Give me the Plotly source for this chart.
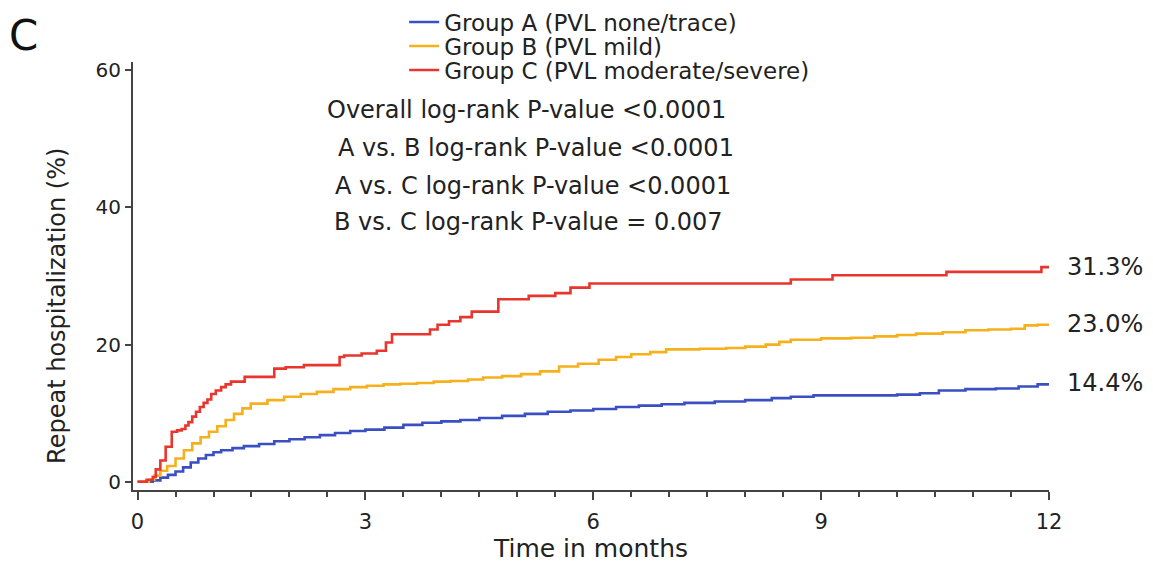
import plotly.graph_objects as go

# ---------------- data ----------------
months_a = [0, 0.2, 0.3, 0.4, 0.5, 0.6, 0.7, 0.8, 0.9, 1.0, 1.1, 1.25, 1.4, 1.6, 1.8, 2.0,
            2.2, 2.4, 2.6, 2.8, 3.0, 3.25, 3.5, 3.75, 4.0, 4.25, 4.5, 4.8, 5.1, 5.4, 5.7,
            6.0, 6.3, 6.6, 6.9, 7.2, 7.6, 8.0, 8.35, 8.6, 8.9, 9.5, 10.0, 10.3, 10.55,
            10.9, 11.3, 11.6, 11.85, 12.0]
group_a = [0, 0.2, 0.6, 1.0, 1.5, 2.1, 2.8, 3.4, 3.9, 4.3, 4.6, 4.9, 5.2, 5.5, 5.9, 6.2,
           6.5, 6.8, 7.1, 7.4, 7.6, 7.9, 8.3, 8.6, 8.8, 9.0, 9.3, 9.6, 9.9, 10.2, 10.4,
           10.6, 10.9, 11.1, 11.3, 11.5, 11.7, 11.9, 12.2, 12.4, 12.6, 12.6, 12.7, 12.9, 13.3,
           13.5, 13.6, 13.9, 14.2, 14.4]

months_b = [0, 0.15, 0.22, 0.3, 0.39, 0.5, 0.61, 0.72, 0.83, 0.94, 1.05, 1.16, 1.27, 1.38,
            1.49, 1.71, 1.93, 2.15, 2.36, 2.58, 2.8, 3.02, 3.24, 3.46, 3.68, 3.9, 4.12, 4.35,
            4.55, 4.8, 5.05, 5.3, 5.55, 5.8, 6.07, 6.3, 6.5, 6.75, 6.96, 7.4, 7.75, 8.0,
            8.27, 8.45, 8.6, 9.0, 9.4, 9.7, 10.0, 10.25, 10.6, 10.9, 11.2, 11.5, 11.68,
            11.85, 12.0]
group_b = [0, 0.3, 0.9, 1.6, 2.3, 3.4, 4.6, 5.6, 6.5, 7.3, 8.1, 9.0, 9.9, 10.7,
           11.4, 11.9, 12.4, 12.8, 13.1, 13.5, 13.8, 14.0, 14.2, 14.3, 14.4, 14.6, 14.7, 14.9,
           15.2, 15.4, 15.7, 16.1, 16.8, 17.2, 17.8, 18.2, 18.6, 18.9, 19.3, 19.4, 19.5, 19.7,
           20.0, 20.4, 20.7, 20.9, 21.0, 21.2, 21.4, 21.6, 21.8, 22.1, 22.2, 22.3, 22.8,
           22.9, 23.0]

months_c = [0, 0.12, 0.2, 0.24, 0.3, 0.37, 0.45, 0.52, 0.58, 0.63, 0.67, 0.72, 0.77, 0.82,
            0.87, 0.92, 0.97, 1.03, 1.1, 1.16, 1.23, 1.41, 1.8, 1.95, 2.19, 2.66, 2.72, 2.95,
            3.15, 3.27, 3.35, 3.85, 3.95, 4.1, 4.25, 4.4, 4.75, 5.15, 5.5, 5.7, 5.95, 8.6,
            9.15, 10.65, 11.9, 12.0]
group_c = [0, 0.3, 0.7, 1.8, 3.1, 5.1, 7.3, 7.5, 7.7, 8.2, 8.7, 9.5, 10.2, 10.9,
           11.5, 12.0, 12.8, 13.3, 13.8, 14.2, 14.6, 15.3, 16.5, 16.7, 17.0, 18.2, 18.4, 18.7,
           19.1, 20.3, 21.5, 22.2, 22.9, 23.4, 24.0, 24.8, 26.6, 27.1, 27.5, 28.3, 28.9, 29.5,
           30.1, 30.6, 31.3, 31.3]

series_names = ["Group A (PVL none/trace)", "Group B (PVL mild)", "Group C (PVL moderate/severe)"]
end_labels = ["14.4%", "23.0%", "31.3%"]
pvalue_texts = ["Overall log-rank P-value <0.0001",
                "A vs. B log-rank P-value <0.0001",
                "A vs. C log-rank P-value <0.0001",
                "B vs. C log-rank P-value = 0.007"]
x_ticks = [0, 3, 6, 9, 12]
y_ticks = [0, 20, 40, 60]

# ---------------- styling ----------------
FONT = "DejaVu Sans, Liberation Sans, Arial, sans-serif"
colors = ["#3a4fc2", "#f5b01c", "#e8352d"]
AXIS = "#444444"

fig = go.Figure()
series = [(months_a, group_a), (months_b, group_b), (months_c, group_c)]
legend_ids = ["legend", "legend2", "legend3"]
for (xs, ys), name, col, lg in zip(series, series_names, colors, legend_ids):
    fig.add_trace(go.Scatter(x=xs, y=ys, mode="lines", name=name,
                             line=dict(color=col, width=2.6, shape="hv"),
                             legend=lg, showlegend=True))

# end-of-curve labels
for (xs, ys), lab in zip(series, end_labels):
    fig.add_annotation(x=1.018, xref="paper", y=ys[-1], yref="y", text=lab,
                       showarrow=False, xanchor="left", yanchor="middle",
                       font=dict(family=FONT, size=24, color="#222"))

# p-value texts
p_pos = [(0.430, 0.888), (0.440, 0.799), (0.437, 0.711), (0.432, 0.627)]
for (px, py), t in zip(p_pos, pvalue_texts):
    fig.add_annotation(x=px, y=py, xref="paper", yref="paper", text=t, showarrow=False,
                       xanchor="center", yanchor="middle",
                       font=dict(family=FONT, size=24, color="#222"))

# panel letter
fig.add_annotation(x=-0.138, y=1.063, xref="paper", yref="paper", text="C", showarrow=False,
                   xanchor="left", yanchor="middle", font=dict(family=FONT, size=42, color="#111"))

# y title as annotation (placed like the reference)
fig.add_annotation(x=-0.083, y=0.43, xref="paper", yref="paper",
                   text="Repeat hospitalization (%)", textangle=-90, showarrow=False,
                   xanchor="center", yanchor="middle",
                   font=dict(family=FONT, size=24, color="#222"))

legend_common = dict(x=0.296, xanchor="left", yanchor="middle", bgcolor="rgba(0,0,0,0)",
                     font=dict(family=FONT, size=23, color="#222"), itemwidth=30,
                     borderwidth=0)
fig.update_layout(
    width=1153, height=563,
    margin=dict(l=133, r=104, t=62, b=73, autoexpand=False),
    paper_bgcolor="white", plot_bgcolor="white",
    font=dict(family=FONT, color="#222"),
    legend=dict(y=1.0935, **legend_common),
    legend2=dict(y=1.0374, **legend_common),
    legend3=dict(y=0.9813, **legend_common),
    xaxis=dict(range=[-0.06, 12.0], tickvals=x_ticks, ticks="outside", ticklen=8,
               tickwidth=2, tickcolor=AXIS, showline=True, linewidth=2, linecolor=AXIS,
               showgrid=False, zeroline=False,
               minor=dict(dtick=0.5, ticks="outside", ticklen=5, tickwidth=1.5,
                          tickcolor=AXIS, showgrid=False),
               tickfont=dict(family=FONT, size=21, color="#222"), ticklabelstandoff=4,
               title=dict(text="Time in months", font=dict(family=FONT, size=25, color="#222"),
                          standoff=12)),
    yaxis=dict(range=[-1.2, 61.2], tickvals=y_ticks, ticks="outside", ticklen=6,
               tickwidth=1.5, tickcolor=AXIS, showline=True, linewidth=2, linecolor=AXIS,
               showgrid=False, zeroline=False,
               tickfont=dict(family=FONT, size=20, color="#222")),
)

fig.write_html("out.html")
